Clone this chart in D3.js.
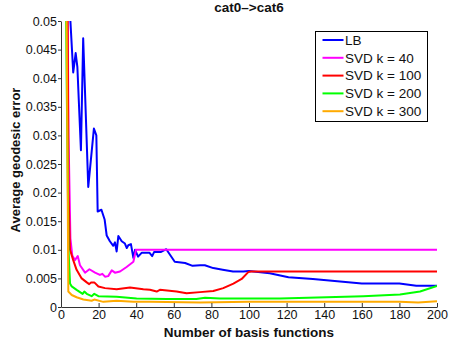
<!DOCTYPE html>
<html><head><meta charset="utf-8">
<script src="https://cdn.jsdelivr.net/npm/d3@7/dist/d3.min.js"></script>
<style>body{margin:0;background:#fff}svg{display:block}text{font-family:"Liberation Sans",Arial,Helvetica,sans-serif}</style>
</head><body><svg id="c" width="449" height="347"></svg>
<script>
const title = "cat0–>cat6";
const xLabel = "Number of basis functions";
const yLabel = "Average geodesic error";
const xTicks = [0,20,40,60,80,100,120,140,160,180,200];
const yTicks = [0,0.005,0.01,0.015,0.02,0.025,0.03,0.035,0.04,0.045,0.05];
const seriesNames = ["LB","SVD k = 40","SVD k = 100","SVD k = 200","SVD k = 300"];
const seriesColors = ["#0000ff","#ff00ff","#ff0000","#00ff00","#ffaa00"];

const lbX = [4,5,6.5,7.8,8.7,10.6,11.8,14.5,17.5,18.8,19.5,21.5,23.2,24.3,26,27.8,28.7,29.6,30.5,32.3,34,35,35.8,37.2,38.5,39.4,41,43,47,48.5,49.5,53,56,60.5,66,70,74,76.5,81,86,91.5,97,100,111,121,134,147,160,180,189,200];
const lbY = [0.053,0.050,0.041,0.0444,0.042,0.0274,0.047,0.021,0.0312,0.030,0.0167,0.017,0.0153,0.0125,0.0115,0.0107,0.0113,0.0097,0.0124,0.0115,0.0111,0.0103,0.0108,0.011,0.0086,0.010,0.0088,0.0095,0.0095,0.0089,0.0096,0.0096,0.0101,0.0079,0.0077,0.0072,0.0073,0.0073,0.0068,0.0065,0.0062,0.0062,0.0063,0.0059,0.0052,0.0049,0.0045,0.0041,0.0041,0.0037,0.0037];

const k40X = [3,4,5,6,7.4,8.9,10.1,12.8,15.1,18.1,20.7,22,23.4,25.1,27,28.7,31.4,34.9,38.5,39.9,200];
const k40Y = [0.08,0.03,0.012,0.009,0.0082,0.0089,0.0073,0.006,0.0066,0.006,0.0056,0.0058,0.0053,0.0054,0.0064,0.006,0.0062,0.007,0.0079,0.0100,0.0100];

const k100X = [3,4,4.8,6.5,8.3,11,13.7,15,16,17.7,19.9,23.4,29.6,36.7,43.8,47.3,50.9,52.6,61.5,66.8,73.9,81,86.3,91.7,96.1,99.6,101,200];
const k100Y = [0.08,0.02,0.010,0.0082,0.0065,0.005,0.0043,0.004,0.0043,0.0043,0.0036,0.0033,0.0031,0.0034,0.0031,0.003,0.0027,0.003,0.0027,0.0024,0.0026,0.0028,0.0033,0.0041,0.0049,0.0061,0.0062,0.0062];

const k200X = [2,3,4,4.8,5.7,8.3,11.5,12.4,13.7,16.3,17.7,19.9,29.6,40.2,56.2,63,72,76.6,84.6,98.8,116.5,141.3,160.8,180.3,191,200];
const k200Y = [0.08,0.04,0.01,0.0041,0.0036,0.003,0.0023,0.0027,0.0023,0.0019,0.0023,0.0019,0.0018,0.0015,0.0014,0.0014,0.0014,0.0016,0.0015,0.0015,0.0015,0.0017,0.0019,0.0022,0.0027,0.0037];

const k300X = [2,3,3.9,5.7,8.3,11.9,16.3,17.7,22.5,29.6,38.5,47.3,74,100,150,180,190,200];
const k300Y = [0.08,0.05,0.0027,0.0021,0.0017,0.0013,0.0011,0.0013,0.0009,0.0011,0.0009,0.0009,0.0008,0.0009,0.0009,0.0009,0.0008,0.0010];

const seriesX = [lbX,k40X,k100X,k200X,k300X];
const seriesY = [lbY,k40Y,k100Y,k200Y,k300Y];

const svg = d3.select("#c");
const L=61,R=437,T=21,B=307;
const x = d3.scaleLinear().domain([0,200]).range([L,R]);
const y = d3.scaleLinear().domain([0,0.05]).range([B,T]);

svg.append("clipPath").attr("id","clip").append("rect").attr("x",L).attr("y",T).attr("width",R-L).attr("height",B-T);

const line = d3.line().x(d=>x(d[0])).y(d=>y(d[1]));
const g = svg.append("g").attr("clip-path","url(#clip)");
seriesX.forEach((xs,i)=>{
  const pts = xs.map((v,j)=>[v,seriesY[i][j]]);
  g.append("path").attr("d",line(pts)).attr("fill","none")
   .attr("stroke",seriesColors[i]).attr("stroke-width",2).attr("stroke-linejoin","round");
});

// axes
const xa = svg.append("g").attr("transform",`translate(0,${B})`)
  .call(d3.axisBottom(x).tickValues(xTicks).tickSizeInner(-4).tickSizeOuter(0).tickPadding(3).tickFormat(d3.format("d")));
const ya = svg.append("g").attr("transform",`translate(${L},0)`)
  .call(d3.axisLeft(y).tickValues(yTicks).tickSizeInner(3).tickSizeOuter(0).tickPadding(1).tickFormat(d=>d===0?"0":d3.format("")(+d.toFixed(3))));
[xa,ya].forEach(a=>{
  a.selectAll("path,line").attr("stroke","#333");
  a.selectAll("text").attr("font-size","12.5px").attr("fill","#111").attr("font-family",'"Liberation Sans",Arial,sans-serif');
});
xa.selectAll("text").attr("dy","0.72em").attr("y",3);

svg.append("text").attr("x",(L+R)/2).attr("y",12).attr("text-anchor","middle")
  .attr("font-weight","bold").attr("font-size","13.5px").attr("fill","#111").text(title);
svg.append("text").attr("x",(L+R)/2).attr("y",337).attr("text-anchor","middle")
  .attr("font-weight","bold").attr("font-size","13.5px").attr("fill","#111").text(xLabel);
svg.append("text").attr("transform",`translate(20,${(T+B)/2-4}) rotate(-90)`).attr("text-anchor","middle")
  .attr("font-weight","bold").attr("font-size","13px").attr("fill","#111").text(yLabel);

// legend
const lg = svg.append("g");
lg.append("rect").attr("x",315.5).attr("y",31.5).attr("width",112).attr("height",90)
  .attr("fill","#fff").attr("stroke","#000").attr("stroke-width",1);
seriesNames.forEach((n,i)=>{
  const yy = 40 + i*17.8;
  lg.append("line").attr("x1",322.5).attr("x2",343.5).attr("y1",yy).attr("y2",yy)
    .attr("stroke",seriesColors[i]).attr("stroke-width",2);
  lg.append("text").attr("x",345).attr("y",yy).attr("dy","0.36em").attr("font-size","13.5px").attr("fill","#111").text(n);
});
</script></body></html>
